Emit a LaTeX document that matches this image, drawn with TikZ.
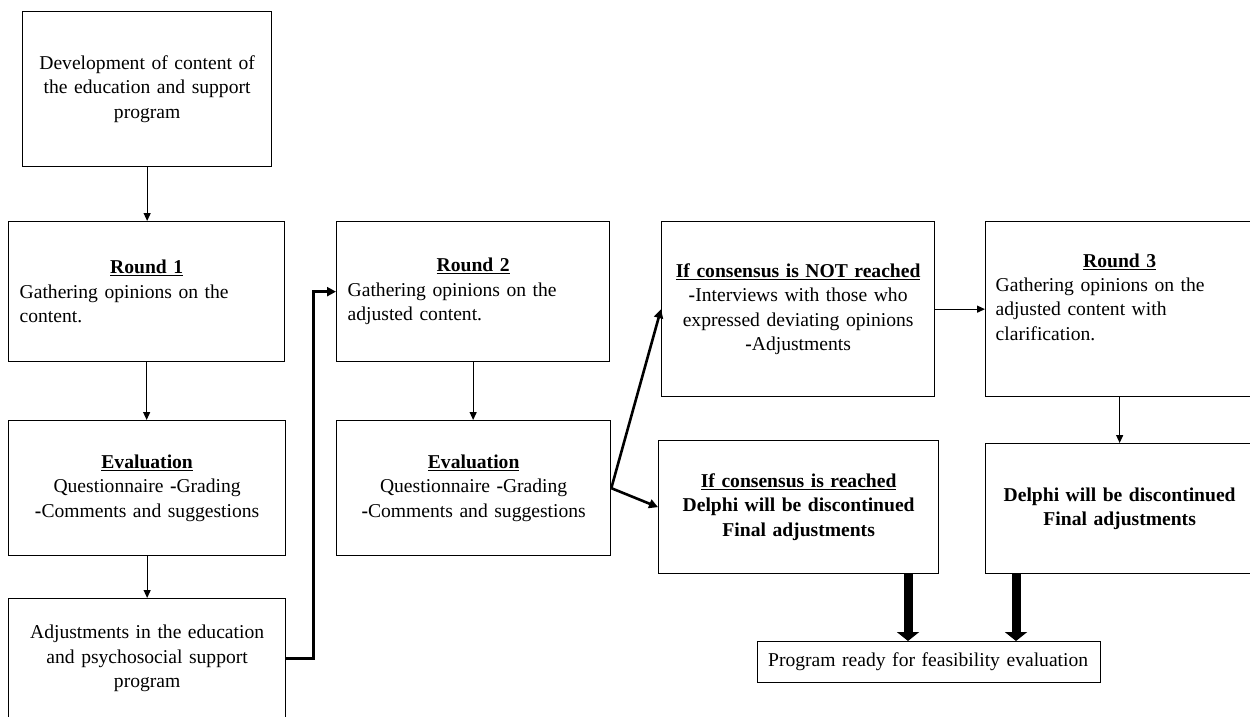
\documentclass[tikz,border=0pt]{standalone}
\usepackage{fontspec}
\setmainfont{Liberation Serif}
\usetikzlibrary{arrows.meta}
\begin{document}
\begin{tikzpicture}[x=1pt,y=-1pt, font=\fontsize{19.6}{24.4}\selectfont,
 box/.style={draw, line width=1.3pt, inner sep=0pt, anchor=north west},
 ar/.style={line width=1.2pt, -{Triangle[length=8pt,width=7pt]}},
 tar/.style={line width=2.6pt, -{Triangle[length=9pt,width=9pt]}},
 bar/.style={line width=9pt, -{Triangle[length=9pt,width=22pt]}}]
\useasboundingbox (0,0) rectangle (1250,717);
\clip (0,0) rectangle (1250,717);
\newcommand{\ttl}[1]{\makebox[\linewidth]{\textbf{\underline{#1}}}}
\node[box, minimum width=249pt, minimum height=155pt, text width=240pt, align=center] (dev) at (22,11)
  {Development of content of\\the education and support\\program};
\node[box, minimum width=276pt, minimum height=140pt, text width=254pt, align=left] (r1) at (8,221)
  {\ttl{Round 1}\\Gathering opinions on the\\content.};
\node[box, minimum width=277pt, minimum height=135pt, text width=265pt, align=center] (e1) at (8,420)
  {\textbf{\underline{Evaluation}}\\Questionnaire \textbf{-}Grading\\\textbf{-}Comments and suggestions};
\node[box, minimum width=277pt, minimum height=120pt, text width=265pt, align=center] (a1) at (8,598)
  {Adjustments in the education\\and psychosocial support\\program};
\node[box, minimum width=273pt, minimum height=140pt, text width=251pt, align=left] (r2) at (336,221)
  {\ttl{Round 2}\\Gathering opinions on the\\adjusted content.};
\node[box, minimum width=274pt, minimum height=135pt, text width=265pt, align=center] (e2) at (336,420)
  {\textbf{\underline{Evaluation}}\\Questionnaire \textbf{-}Grading\\\textbf{-}Comments and suggestions};
\node[box, minimum width=273pt, minimum height=175pt, text width=268pt, align=center] (nr) at (661,221)
  {\textbf{\underline{If consensus is NOT reached}}\\\textbf{-}Interviews with those who\\expressed deviating opinions\\\textbf{-}Adjustments};
\node[box, minimum width=280pt, minimum height=133pt, text width=270pt, align=center] (rc) at (658,440)
  {\textbf{\underline{If consensus is reached}}\\\textbf{Delphi will be discontinued}\\\textbf{Final adjustments}};
\node[box, minimum width=268pt, minimum height=175pt, text width=248pt, align=left] (r3) at (985,221)
  {\ttl{Round 3}\\Gathering opinions on the\\adjusted content with\\clarification.\\\mbox{}};
\node[box, minimum width=268pt, minimum height=130pt, text width=262pt, align=center] (dl) at (985,443)
  {\textbf{Delphi will be discontinued}\\\textbf{Final adjustments}};
\node[box, minimum width=343pt, minimum height=41pt, text width=322pt, align=left] (pr) at (757,641)
  {Program ready for feasibility evaluation};
\coordinate (p1) at (908,641);
\coordinate (p2) at (1016,641);
\draw[ar] (dev.south) -- (dev.south |- r1.north);
\draw[ar] (r1.south) -- (r1.south |- e1.north);
\draw[ar] (e1.south) -- (e1.south |- a1.north);
\draw[tar] (a1.east) -- ++(27,0) |- (r2.west);
\draw[ar] (r2.south) -- (r2.south |- e2.north);
\draw[tar] (e2.east) -- (nr.west);
\draw[tar] (e2.east) -- (rc.west);
\draw[ar] (nr.east) -- (r3.west);
\draw[ar] (r3.south) -- (r3.south |- dl.north);
\draw[bar] (p1 |- rc.south) -- (p1);
\draw[bar] (p2 |- dl.south) -- (p2);
\end{tikzpicture}
\end{document}
